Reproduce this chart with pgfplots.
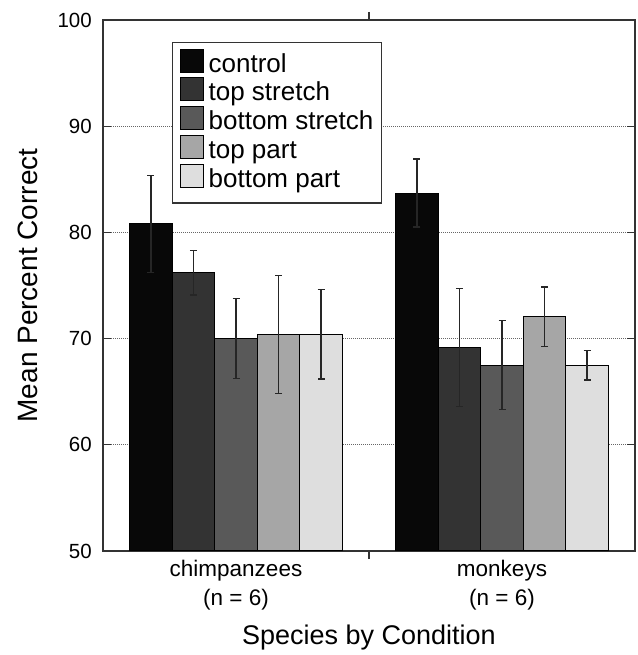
\documentclass[border=0pt]{standalone}
\usepackage{pgfplots}
\pgfplotsset{compat=1.18}
\usepackage{fontspec}
\setmainfont{Liberation Sans}

\definecolor{c1}{gray}{0.03}
\definecolor{c2}{gray}{0.2}
\definecolor{c3}{gray}{0.35}
\definecolor{c4}{gray}{0.65}
\definecolor{c5}{gray}{0.87}

\begin{document}
\begin{tikzpicture}
\begin{axis}[
  scale only axis, width=532pt, height=531pt,
  xmin=-0.5, xmax=1.5, ymin=50, ymax=100,
  /pgf/number format/assume math mode=true,
  axis line style={line width=1.3pt, black!80},
  ytick={50,60,...,100},
  yticklabel style={font=\fontsize{20.5}{24}\selectfont, inner sep=0pt, xshift=-11pt},
  ymajorgrids,
  major grid style={black!60, line width=1pt, dash pattern=on 1pt off 1pt},
  tick align=inside, xtick pos=both, ytick pos=both,
  major tick length=8pt,
  tick style={line width=1.3pt, black!80},
  xtick={0.5}, xticklabels={},
  extra x ticks={0,1},
  extra x tick labels={chimpanzees\\(n = 6), monkeys\\(n = 6)},
  extra x tick style={major tick length=0pt, grid=none},
  xticklabel style={align=center, font=\fontsize{22.5}{29}\selectfont, yshift=-6pt},
  ylabel={Mean Percent Correct},
  ylabel style={at={(axis description cs:-0.124,0.5)}, anchor=base, font=\fontsize{28}{30}\selectfont},
  xlabel={Species by Condition},
  xlabel style={at={(axis description cs:0.5,-0.177)}, anchor=base, font=\fontsize{27}{30}\selectfont},
  ybar, bar width=0.16,
  every axis plot/.append style={
    legend image code/.code={
      \path (0pt,4pt) rectangle (23pt,14pt);
      \draw[#1, overlay, draw=black, line width=1pt] (0pt,-7pt) rectangle (23pt,16pt);}
  },
  error bars/y dir=both, error bars/y explicit,
  error bars/error bar style={line width=1.4pt, black!85},
  error bars/error mark options={rotate=90, mark size=3.5pt, line width=1.4pt, black!85},
  legend cell align=left,
  legend style={at={(axis description cs:0.1297,0.9586)}, anchor=north west,
    draw=black!80, line width=1.3pt, fill=white,
    font=\fontsize{26}{28}\selectfont,
    inner xsep=7pt, inner ysep=8pt, row sep=0pt, column sep=4pt,
    nodes={text height=20pt, text depth=6pt, inner ysep=1.35pt, inner xsep=1pt}},
]
\addplot[fill=c1, draw=black, line width=1pt, bar shift=-0.32] coordinates {(0,80.8) +- (0,4.55) (1,83.7) +- (0,3.2)};
\addplot[fill=c2, draw=black, line width=1pt, bar shift=-0.16] coordinates {(0,76.2) +- (0,2.1) (1,69.15) +- (0,5.55)};
\addplot[fill=c3, draw=black, line width=1pt, bar shift=0] coordinates {(0,70.0) +- (0,3.75) (1,67.5) +- (0,4.2)};
\addplot[fill=c4, draw=black, line width=1pt, bar shift=0.16] coordinates {(0,70.4) +- (0,5.55) (1,72.05) +- (0,2.8)};
\addplot[fill=c5, draw=black, line width=1pt, bar shift=0.32] coordinates {(0,70.4) +- (0,4.2) (1,67.5) +- (0,1.4)};
\legend{control, top stretch, bottom stretch, top part, bottom part}
\coordinate (O) at (rel axis cs:0,0);
\end{axis}
\path (O) ++(-103pt,-104pt) rectangle ++(637pt,655pt);
\end{tikzpicture}
\end{document}
